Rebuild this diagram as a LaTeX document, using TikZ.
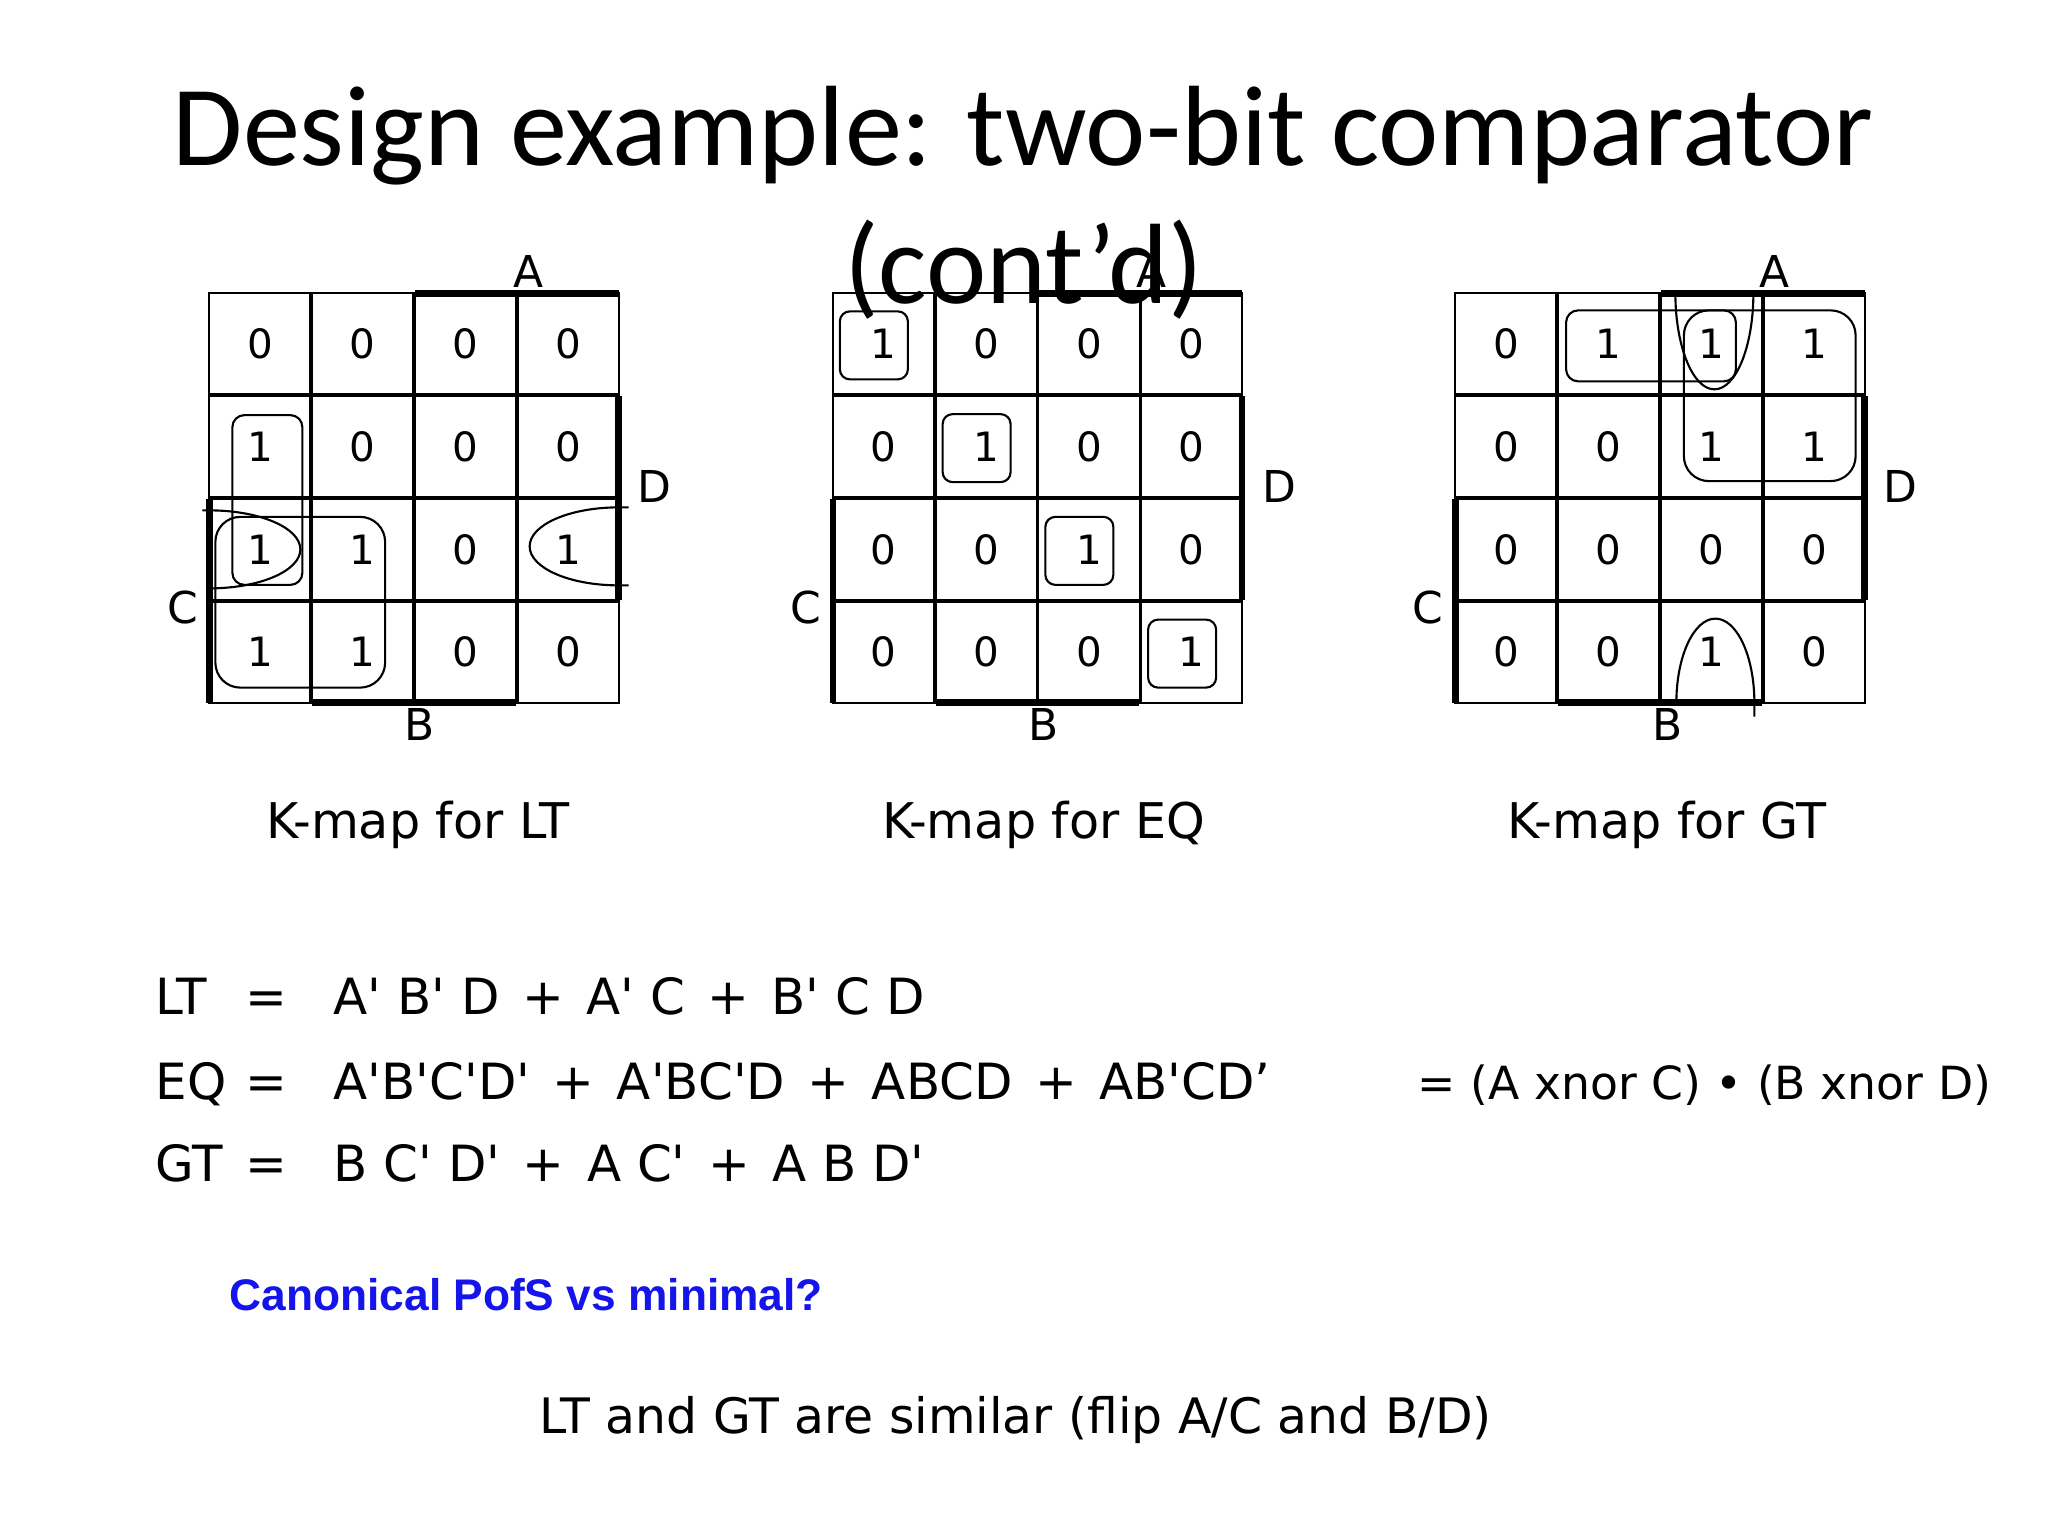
\documentclass[tikz,border=0pt]{standalone}
\usepackage{fontspec}
\usepackage{xcolor}
\usepackage{tikz}
\usetikzlibrary{positioning,calc,matrix}

\newfontfamily\comicfont{DejaVu Sans}
\newfontfamily\titlefont{Carlito}
\newfontfamily\arialfont{Liberation Sans}
\definecolor{askblue}{RGB}{20,20,235}
\newcommand{\npr}{\textquotesingle}
\newcommand{\gplus}{\hspace{0.45em}+\hspace{0.45em}}

\tikzset{
  kmap/.style={matrix of nodes, inner sep=0pt, outer sep=0pt,
    column sep=0pt, row sep=0pt,
    nodes={draw, line width=0.5pt, minimum width=1.01cm, minimum height=1.01cm,
      inner sep=0pt, outer sep=0pt, anchor=center,
      font=\comicfont\fontsize{11.5}{13}\selectfont}},
  bar/.style={line width=1.9pt},
  grp/.style={line width=0.6pt},
  varlbl/.style={font=\comicfont\fontsize{12.5}{14}\selectfont, inner sep=0pt, anchor=base},
  kcap/.style={font=\comicfont\fontsize{14}{16}\selectfont, inner sep=0pt, anchor=base},
  eqn/.style={font=\comicfont\fontsize{14.2}{17}\selectfont, inner sep=0pt, anchor=base west},
  title/.style={font=\titlefont\fontsize{32.5}{38}\selectfont, inner sep=0pt, anchor=base},
}

\begin{document}
\begin{tikzpicture}
\fill[white] (0,0) rectangle (20.48,15.35);
\useasboundingbox (0,0) rectangle (20.48,15.35);

% title
\node[title] (title1) at (10.23,13.69) {Design example: two-bit comparator};
\node[title] (title2) at (10.235,12.31) {(cont’d)};

% K-maps
\matrix (lt) [kmap] at (4.14,10.37) {
  0 & 0 & 0 & 0 \\
  1 & 0 & 0 & 0 \\
  1 & 1 & 0 & 1 \\
  1 & 1 & 0 & 0 \\
};
\matrix (eq) [kmap] at (10.375,10.37) {
  1 & 0 & 0 & 0 \\
  0 & 1 & 0 & 0 \\
  0 & 0 & 1 & 0 \\
  0 & 0 & 0 & 1 \\
};
\matrix (gt) [kmap] at (16.6,10.37) {
  0 & 1 & 1 & 1 \\
  0 & 0 & 1 & 1 \\
  0 & 0 & 0 & 0 \\
  0 & 0 & 1 & 0 \\
};

% variable bars and names
\draw[bar] (lt-1-3.north west) -- (lt-1-4.north east) (lt-2-4.north east) -- (lt-3-4.south east)
  (lt-3-1.north west) -- (lt-4-1.south west) (lt-4-2.south west) -- (lt-4-3.south east);
\draw[bar] (eq-1-3.north west) -- (eq-1-4.north east) (eq-2-4.north east) -- (eq-3-4.south east)
  (eq-3-1.north west) -- (eq-4-1.south west) (eq-4-2.south west) -- (eq-4-3.south east);
\draw[bar] (gt-1-3.north west) -- (gt-1-4.north east) (gt-2-4.north east) -- (gt-3-4.south east)
  (gt-3-1.north west) -- (gt-4-1.south west) (gt-4-2.south west) -- (gt-4-3.south east);

\node[varlbl] (ltA) at ($(lt-1-4.north west)+(0.11,0.06)$) {A};
\node[varlbl] (ltD) at ($(lt-2-4.south east)+(0.36,-0.05)$) {D};
\node[varlbl] (ltC) at ($(lt-4-1.north west)+(-0.27,-0.22)$) {C};
\node[varlbl] (ltB) at ($(lt-4-3.south west)+(0.05,-0.38)$) {B};
\node[varlbl] (eqA) at ($(eq-1-4.north west)+(0.10,0.06)$) {A};
\node[varlbl] (eqD) at ($(eq-2-4.south east)+(0.37,-0.05)$) {D};
\node[varlbl] (eqC) at ($(eq-4-1.north west)+(-0.27,-0.22)$) {C};
\node[varlbl] (eqB) at ($(eq-4-3.south west)+(0.05,-0.38)$) {B};
\node[varlbl] (gtA) at ($(gt-1-4.north west)+(0.11,0.06)$) {A};
\node[varlbl] (gtD) at ($(gt-2-4.south east)+(0.36,-0.05)$) {D};
\node[varlbl] (gtC) at ($(gt-4-1.north west)+(-0.28,-0.22)$) {C};
\node[varlbl] (gtB) at ($(gt-4-3.south west)+(0.07,-0.38)$) {B};

% groups of ones
\draw[grp, rounded corners=0.12cm] ($(lt-2-1.north west)+(0.23,-0.19)$) rectangle ($(lt-3-1.south east)+(-0.08,0.15)$);
\draw[grp, rounded corners=0.25cm] ($(lt-3-1.north west)+(0.06,-0.18)$) rectangle ($(lt-4-2.south east)+(-0.28,0.15)$);
\draw[grp] ($(lt-3-1.west)+(-0.07,0.39)$) -- ++(0.07,0) arc[start angle=90, end angle=-90, x radius=0.91, y radius=0.39];
\draw[grp] ($(lt-3-4.east)+(0.1,0.42)$) -- ++(-0.1,0) arc[start angle=90, end angle=270, x radius=0.89, y radius=0.39] -- ++(0.1,0);

\draw[grp, rounded corners=0.1cm] ($(eq-1-1.north west)+(0.07,-0.18)$) rectangle ++(0.68,-0.68);
\draw[grp, rounded corners=0.1cm] ($(eq-2-2.north west)+(0.07,-0.18)$) rectangle ++(0.68,-0.68);
\draw[grp, rounded corners=0.1cm] ($(eq-3-3.north west)+(0.07,-0.18)$) rectangle ++(0.68,-0.68);
\draw[grp, rounded corners=0.1cm] ($(eq-4-4.north west)+(0.07,-0.18)$) rectangle ++(0.68,-0.68);

\draw[grp, rounded corners=0.12cm] ($(gt-1-2.north west)+(0.08,-0.17)$) rectangle ($(gt-1-3.south east)+(-0.26,0.13)$);
\draw[grp, rounded corners=0.25cm] ($(gt-1-3.north west)+(0.23,-0.17)$) rectangle ($(gt-2-4.south east)+(-0.09,0.16)$);
\draw[grp] ($(gt-1-3.north)+(-0.36,0)$) arc[start angle=180, end angle=360, x radius=0.39, y radius=0.96];
\draw[grp] ($(gt-4-3.south)+(-0.35,0)$) arc[start angle=180, end angle=0, x radius=0.39, y radius=0.84] -- ++(0,-0.14);

% captions
\node[kcap] (ltcap) at ($(lt.south)+(0.04,-1.35)$) {K-map for LT};
\node[kcap] (eqcap) at ($(eq.south)+(0.06,-1.35)$) {K-map for EQ};
\node[kcap] (gtcap) at ($(gt.south)+(0.07,-1.35)$) {K-map for GT};

% equations
\node[eqn] (ltname) at (1.55,5.20) {LT};
\node[eqn] (lteq) at (2.45,5.20) {=};
\node[eqn] (ltrhs) at (3.33,5.20) {A\npr{} B\npr{} D\gplus A\npr{} C\gplus B\npr{} C D};
\node[eqn] (eqname) at (1.55,4.35) {EQ};
\node[eqn] (eqeq) at (2.45,4.35) {=};
\node[eqn] (eqrhs) at (3.33,4.35) {A\npr B\npr C\npr D\npr\gplus A\npr BC\npr D\gplus ABCD\gplus AB\npr CD’};
\node[eqn, font=\comicfont\fontsize{13}{16}\selectfont] (xnor) at (14.17,4.35) {= (A xnor C) • (B xnor D)};
\node[eqn] (gtname) at (1.55,3.53) {GT};
\node[eqn] (gteq) at (2.45,3.53) {=};
\node[eqn] (gtrhs) at (3.33,3.53) {B C\npr{} D\npr\gplus A C\npr\gplus A B D\npr};

\node[anchor=base west, inner sep=0pt, text=askblue, font=\arialfont\bfseries\fontsize{12.6}{15}\selectfont]
  (ask) at (2.29,2.243) {Canonical PofS vs minimal?};
\node[eqn, font=\comicfont\fontsize{13.9}{16}\selectfont] (similar) at (5.39,1.01) {LT and GT are similar (flip A/C and B/D)};
\end{tikzpicture}
\end{document}
